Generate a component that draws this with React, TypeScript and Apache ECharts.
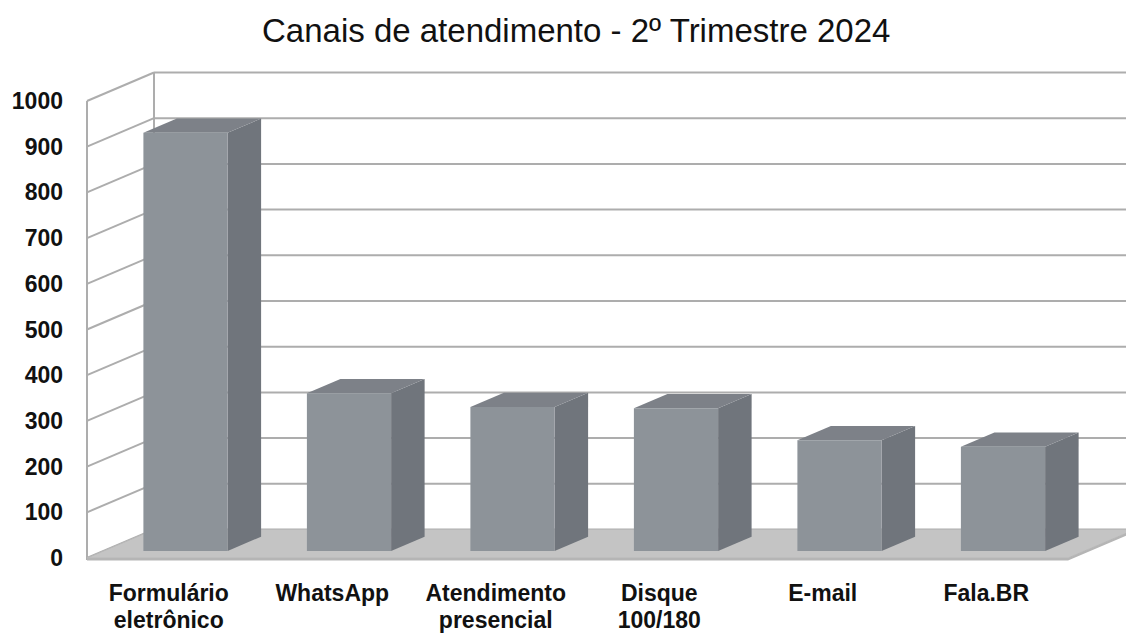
import React, { useEffect, useRef } from "react";
import * as echarts from "echarts";

const chartTitle = "Canais de atendimento - 2º Trimestre 2024";
const categories = [
  "Formulário\neletrônico",
  "WhatsApp",
  "Atendimento\npresencial",
  "Disque\n100/180",
  "E-mail",
  "Fala.BR",
];
const values = [915, 345, 315, 312, 242, 228];
const yTicks = [0, 100, 200, 300, 400, 500, 600, 700, 800, 900, 1000];
const yMin = 0;
const yMax = 1000;
const yStep = 100;

const DX = 67;
const DY = -28.5;
const LINE = "#ADADAD";
const FONT = "'Liberation Sans', Arial, sans-serif";

export default function App() {
  const ref = useRef<HTMLDivElement>(null);
  useEffect(() => {
    if (!ref.current) return;
    const chart = echarts.init(ref.current, undefined, { renderer: "svg" });
    const n = categories.length;

    const frameRender = (params: any, api: any) => {
      const band = api.size([1, 0])[0];
      const p0 = api.coord([0, yMin]);
      const p1 = api.coord([0, yMax]);
      const left = p0[0] - band / 2;
      const right = left + band * n;
      const y0 = p0[1];
      const y1 = p1[1];
      return {
        type: "group",
        children: [
          {
            type: "polygon",
            shape: {
              points: [
                [left + DX, y1 + DY],
                [right + DX + 10, y1 + DY],
                [right + DX + 10, y0 + DY],
                [left + DX, y0 + DY],
              ],
            },
            style: { fill: "#fff" },
          },
          {
            type: "polygon",
            shape: {
              points: [
                [left, y0],
                [left, y1],
                [left + DX, y1 + DY],
                [left + DX, y0 + DY],
              ],
            },
            style: { fill: "#fff" },
          },
          {
            type: "line",
            shape: { x1: left, y1: y0 + 2, x2: left, y2: y1 },
            style: { stroke: LINE, lineWidth: 2 },
          },
          {
            type: "line",
            shape: { x1: left + DX, y1: y0 + DY, x2: left + DX, y2: y1 + DY },
            style: { stroke: LINE, lineWidth: 2 },
          },
        ],
      };
    };

    const gridRender = (params: any, api: any) => {
      const band = api.size([1, 0])[0];
      const p = api.coord([0, api.value(1)]);
      const left = p[0] - band / 2;
      const right = left + band * n;
      const y = p[1];
      return {
        type: "group",
        children: [
          {
            type: "line",
            shape: { x1: left, y1: y, x2: left + DX, y2: y + DY },
            style: { stroke: LINE, lineWidth: 2 },
          },
          {
            type: "line",
            shape: { x1: left + DX, y1: y + DY, x2: right + DX + 10, y2: y + DY },
            style: { stroke: LINE, lineWidth: 2 },
          },
        ],
      };
    };

    const floorRender = (params: any, api: any) => {
      const band = api.size([1, 0])[0];
      const p0 = api.coord([0, yMin]);
      const left = p0[0] - band / 2;
      const right = left + band * n;
      const y0 = p0[1];
      return {
        type: "group",
        children: [
          {
            type: "polygon",
            shape: {
              points: [
                [left, y0],
                [right, y0],
                [right + DX, y0 + DY],
                [left + DX, y0 + DY],
              ],
            },
            style: { fill: "#C4C4C4", stroke: "#B8B8B8", lineWidth: 1 },
          },
          {
            type: "polygon",
            shape: {
              points: [
                [left, y0],
                [right, y0],
                [right + DX, y0 + DY],
                [right + DX, y0 + DY + 2.5],
                [right, y0 + 2.5],
                [left, y0 + 2.5],
              ],
            },
            style: { fill: "#B5B5B5" },
          },
        ],
      };
    };

    const barRender = (params: any, api: any) => {
      const i = api.value(0);
      const v = api.value(1);
      const band = api.size([1, 0])[0];
      const p0 = api.coord([i, yMin]);
      const p1 = api.coord([i, v]);
      const w = band * 0.515;
      const cx = p0[0] + 0.25 * DX;
      const fy0 = p0[1] + 0.25 * DY;
      const fy1 = p1[1] + 0.25 * DY;
      const bx = 0.5 * DX;
      const by = 0.5 * DY;
      const xl = cx - w / 2;
      const xr = cx + w / 2;
      return {
        type: "group",
        children: [
          {
            type: "polygon",
            shape: {
              points: [
                [xr, fy1],
                [xr + bx, fy1 + by],
                [xr + bx, fy0 + by],
                [xr, fy0],
              ],
            },
            style: { fill: "#70757C" },
          },
          {
            type: "polygon",
            shape: {
              points: [
                [xl, fy1],
                [xl + bx, fy1 + by],
                [xr + bx, fy1 + by],
                [xr, fy1],
              ],
            },
            style: { fill: "#7D8188" },
          },
          {
            type: "rect",
            shape: { x: xl, y: fy1, width: w, height: fy0 - fy1 },
            style: { fill: "#8D9399" },
          },
        ],
      };
    };

    chart.setOption({
      animation: false,
      title: {
        text: chartTitle,
        left: 257,
        top: 9,
        textStyle: {
          fontFamily: FONT,
          fontSize: 33,
          fontWeight: "normal",
          color: "#111",
        },
      },
      grid: { left: 87, right: 58, top: 101, bottom: 78, containLabel: false },
      xAxis: {
        type: "category",
        data: categories,
        axisLine: { show: false },
        axisTick: { show: false },
        splitLine: { show: false },
        axisLabel: {
          margin: 21,
          fontFamily: FONT,
          fontSize: 23,
          fontWeight: "bold",
          lineHeight: 27,
          color: "#111",
          interval: 0,
        },
      },
      yAxis: {
        type: "value",
        min: yMin,
        max: yMax,
        interval: yStep,
        axisLine: { show: false },
        axisTick: { show: false },
        splitLine: { show: false },
        axisLabel: {
          margin: 24,
          fontFamily: FONT,
          fontSize: 23,
          fontWeight: "bold",
          color: "#111",
          padding: [6, 0, 0, 0],
          formatter: (v: number) => String(v),
        },
      },
      series: [
        {
          type: "custom",
          z: 1,
          renderItem: frameRender,
          data: [[0, 0]],
          silent: true,
        },
        {
          type: "custom",
          z: 2,
          renderItem: gridRender,
          data: yTicks.map((t) => [0, t]),
          silent: true,
        },
        {
          type: "custom",
          z: 3,
          renderItem: floorRender,
          data: [[0, 0]],
          silent: true,
        },
        {
          type: "custom",
          z: 4,
          renderItem: barRender,
          data: values.map((v, i) => [i, v]),
        },
      ],
    });
    return () => chart.dispose();
  }, []);
  return (
    <div
      ref={ref}
      style={{ position: "fixed", left: 0, top: 0, width: 1126, height: 636, background: "#fff" }}
    />
  );
}
